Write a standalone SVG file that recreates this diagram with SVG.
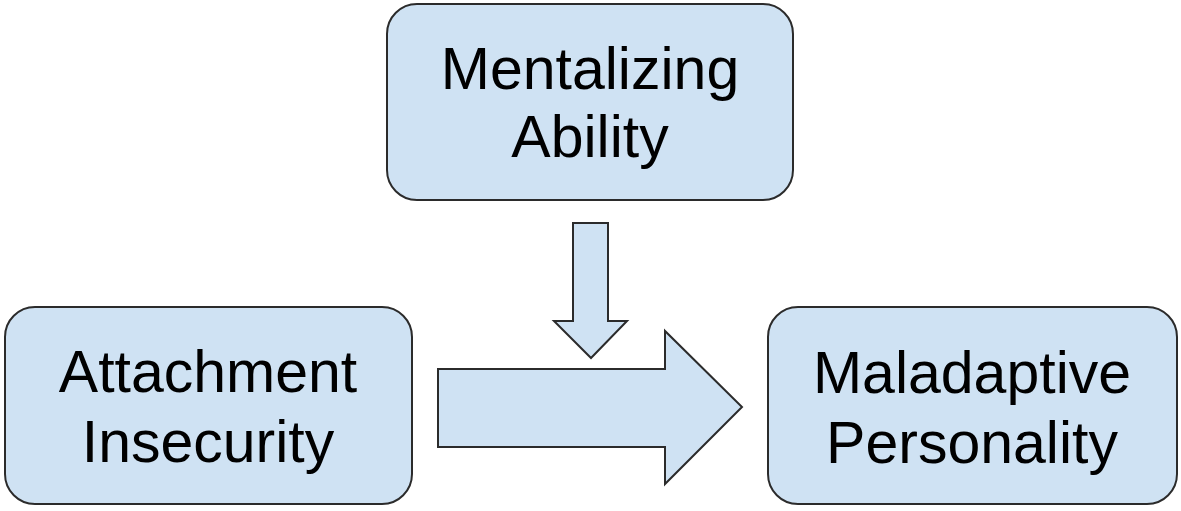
<svg xmlns="http://www.w3.org/2000/svg" width="1181" height="511" viewBox="0 0 1181 511">
<style>
.box{fill:#cfe2f3;stroke:#2b2b2b;stroke-width:2}
.lbl{font-family:"Liberation Sans",Arial,sans-serif;font-size:59px;fill:#000;text-anchor:middle}
</style>
<rect x="0" y="0" width="1181" height="511" fill="#fff"/>
<g id="mentalizing">
<rect class="box" x="387" y="4" width="406" height="196" rx="30"/>
<text class="lbl" x="590" y="89">Mentalizing</text>
<text class="lbl" x="590" y="157">Ability</text>
</g>
<g id="attachment">
<rect class="box" x="5" y="307" width="407" height="197" rx="30"/>
<text class="lbl" x="208" y="392">Attachment</text>
<text class="lbl" x="208" y="462">Insecurity</text>
</g>
<g id="maladaptive">
<rect class="box" x="768" y="307" width="409" height="197" rx="30"/>
<text class="lbl" x="972" y="393">Maladaptive</text>
<text class="lbl" x="972" y="463">Personality</text>
</g>
<g id="connectors">
<polygon class="box" points="573,223 608,223 608,321 627,321 591,358 554,321 573,321"/>
<polygon class="box" points="438,369 665,369 665,331 742,407 665,484 665,447 438,447"/>
</g>
</svg>
